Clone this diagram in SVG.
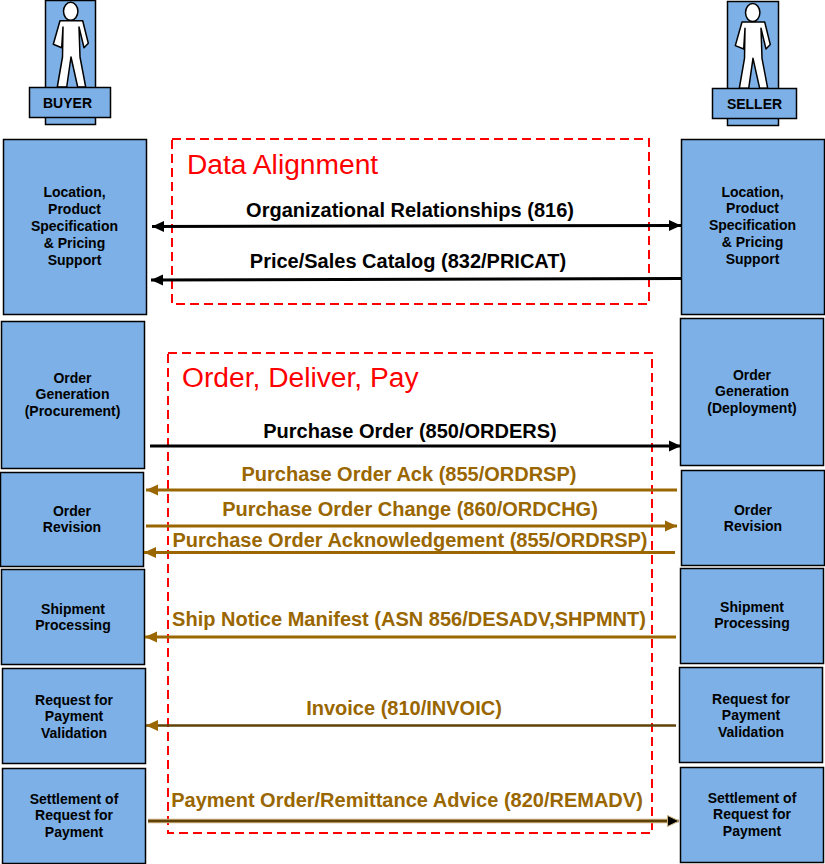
<svg xmlns="http://www.w3.org/2000/svg" width="825" height="864" viewBox="0 0 825 864">
<style>
text{font-family:"Liberation Sans",Arial,sans-serif;font-weight:700;text-anchor:middle}
.box{fill:#7cb0e6;stroke:#000;stroke-width:1.5}
.nt{font-size:14px;fill:#000}
.lk{font-size:20px;fill:#000}
.lb{font-size:20px;fill:#996600}
.ttl{font-size:28.200px;font-weight:400;fill:#f00;text-anchor:start}
.zone{fill:none;stroke:#f00;stroke-width:2;stroke-dasharray:9 5}
.fig{fill:#fff;stroke:#000;stroke-width:1.5;stroke-linejoin:round}
.k{stroke:#000;stroke-width:3;fill:none}
.b{stroke:#996600;stroke-width:3;fill:none}
.halo{stroke:#c9ae7a;stroke-width:4.500;fill:none}
.d{stroke:#5e4208;stroke-width:2.500;fill:none}
</style>
<defs>
<marker id="ak" markerUnits="userSpaceOnUse" markerWidth="13" markerHeight="13" refX="12" refY="6" orient="auto-start-reverse"><path d="M0 0.500L12 6L0 11.500Z" fill="#000"/></marker>
<marker id="ab" markerUnits="userSpaceOnUse" markerWidth="13" markerHeight="13" refX="12" refY="6" orient="auto-start-reverse"><path d="M0 0.500L12 6L0 11.500Z" fill="#996600"/></marker>
<marker id="ad" markerUnits="userSpaceOnUse" markerWidth="14" markerHeight="14" refX="12" refY="6.500" orient="auto"><path d="M0.500 1L12 6.500L0.500 12Z" fill="#000" stroke="#c9ae7a" stroke-width="1"/></marker>
<g id="person">
<path class="fig" d="M60 20.700L82.700 20.700L88.300 43.300L84 47.700L79 27L80 57L85.700 87L77.700 87L71 57L66.700 87L57.300 87L62.500 57L63 27L61.700 47.700L53.300 44.300Z"/>
<ellipse class="fig" cx="70.700" cy="11.300" rx="7.200" ry="9"/>
</g>
</defs>
<g id="buyer">
<rect class="box" x="45.500" y="0.500" width="50" height="124"/>
<use href="#person"/>
<rect class="box" x="29.500" y="87.500" width="81" height="30"/>
<text class="nt" x="67.500" y="108">BUYER</text>
</g>
<g id="seller">
<rect class="box" x="727.500" y="1.500" width="51" height="124"/>
<use href="#person" transform="translate(682,1.300)"/>
<rect class="box" x="712.500" y="88.500" width="84" height="30"/>
<text class="nt" x="754.500" y="109">SELLER</text>
</g>
<g id="zones">
<rect class="zone" x="172" y="139" width="477" height="165"/>
<rect class="zone" x="168" y="353" width="484" height="480"/>
<text class="ttl" x="187" y="174">Data Alignment</text>
<text class="ttl" x="182" y="387">Order, Deliver, Pay</text>
</g>
<g id="b1"><rect class="box" x="3.500" y="139.500" width="143" height="175"/><text class="nt" x="74.500" y="197">Location,</text><text class="nt" x="74.500" y="214">Product</text><text class="nt" x="74.500" y="231">Specification</text><text class="nt" x="74.500" y="248">&amp; Pricing</text><text class="nt" x="74.500" y="265">Support</text></g>
<g id="b2"><rect class="box" x="1.500" y="321.500" width="143" height="147"/><text class="nt" x="72.500" y="383">Order</text><text class="nt" x="72.500" y="399">Generation</text><text class="nt" x="72.500" y="416">(Procurement)</text></g>
<g id="b3"><rect class="box" x="0.500" y="472.500" width="143" height="94"/><text class="nt" x="72" y="516">Order</text><text class="nt" x="72" y="532">Revision</text></g>
<g id="b4"><rect class="box" x="1.500" y="569.500" width="143" height="95"/><text class="nt" x="73" y="614">Shipment</text><text class="nt" x="73" y="630">Processing</text></g>
<g id="b5"><rect class="box" x="2.500" y="668.500" width="143" height="95"/><text class="nt" x="74" y="705">Request for</text><text class="nt" x="74" y="721">Payment</text><text class="nt" x="74" y="738">Validation</text></g>
<g id="b6"><rect class="box" x="2.500" y="768.500" width="143" height="95"/><text class="nt" x="74" y="804">Settlement of</text><text class="nt" x="74" y="820">Request for</text><text class="nt" x="74" y="837">Payment</text></g>
<g id="r1"><rect class="box" x="681.500" y="139.500" width="143" height="175"/><text class="nt" x="752.500" y="197">Location,</text><text class="nt" x="752.500" y="213">Product</text><text class="nt" x="752.500" y="230">Specification</text><text class="nt" x="752.500" y="247">&amp; Pricing</text><text class="nt" x="752.500" y="264">Support</text></g>
<g id="r2"><rect class="box" x="680.500" y="318.500" width="143" height="147"/><text class="nt" x="752" y="380">Order</text><text class="nt" x="752" y="396">Generation</text><text class="nt" x="752" y="413">(Deployment)</text></g>
<g id="r3"><rect class="box" x="681.500" y="470.500" width="143" height="95"/><text class="nt" x="753" y="515">Order</text><text class="nt" x="753" y="531">Revision</text></g>
<g id="r4"><rect class="box" x="680.500" y="568.500" width="143" height="95"/><text class="nt" x="752" y="612">Shipment</text><text class="nt" x="752" y="628">Processing</text></g>
<g id="r5"><rect class="box" x="679.500" y="667.500" width="143" height="95"/><text class="nt" x="751" y="704">Request for</text><text class="nt" x="751" y="720">Payment</text><text class="nt" x="751" y="737">Validation</text></g>
<g id="r6"><rect class="box" x="680.500" y="767.500" width="143" height="95"/><text class="nt" x="752" y="803">Settlement of</text><text class="nt" x="752" y="819">Request for</text><text class="nt" x="752" y="836">Payment</text></g>
<g id="connectors">
<path class="k" d="M152 226.500L681 225.500" marker-start="url(#ak)" marker-end="url(#ak)"/>
<path class="k" d="M681 278.500L151 280" marker-end="url(#ak)"/>
<path class="k" d="M150 446L681 446" marker-end="url(#ak)"/>
<path class="b" d="M677 490L146 490" marker-end="url(#ab)"/>
<path class="b" d="M146 526L677 526" marker-end="url(#ab)"/>
<path class="b" d="M675 552.500L144 552.500" marker-end="url(#ab)"/>
<path class="b" d="M676 637L145 637" marker-end="url(#ab)"/>
<path class="d" d="M676 725.500L146 725.500" marker-end="url(#ab)"/>
<path class="halo" d="M148 821L668 821"/>
<path class="d" d="M148 821L679 821" marker-end="url(#ad)"/>
</g>
<g id="labels">
<text class="lk" x="410" y="217">Organizational Relationships (816)</text>
<text class="lk" x="408" y="268">Price/Sales Catalog (832/PRICAT)</text>
<text class="lk" x="410" y="438">Purchase Order (850/ORDERS)</text>
<text class="lb" x="409" y="481">Purchase Order Ack (855/ORDRSP)</text>
<text class="lb" x="410" y="516">Purchase Order Change (860/ORDCHG)</text>
<text class="lb" x="410" y="547">Purchase Order Acknowledgement (855/ORDRSP)</text>
<text class="lb" x="409" y="626">Ship Notice Manifest (ASN 856/DESADV,SHPMNT)</text>
<text class="lb" x="404" y="715">Invoice (810/INVOIC)</text>
<text class="lb" x="407" y="807">Payment Order/Remittance Advice (820/REMADV)</text>
</g>
</svg>
